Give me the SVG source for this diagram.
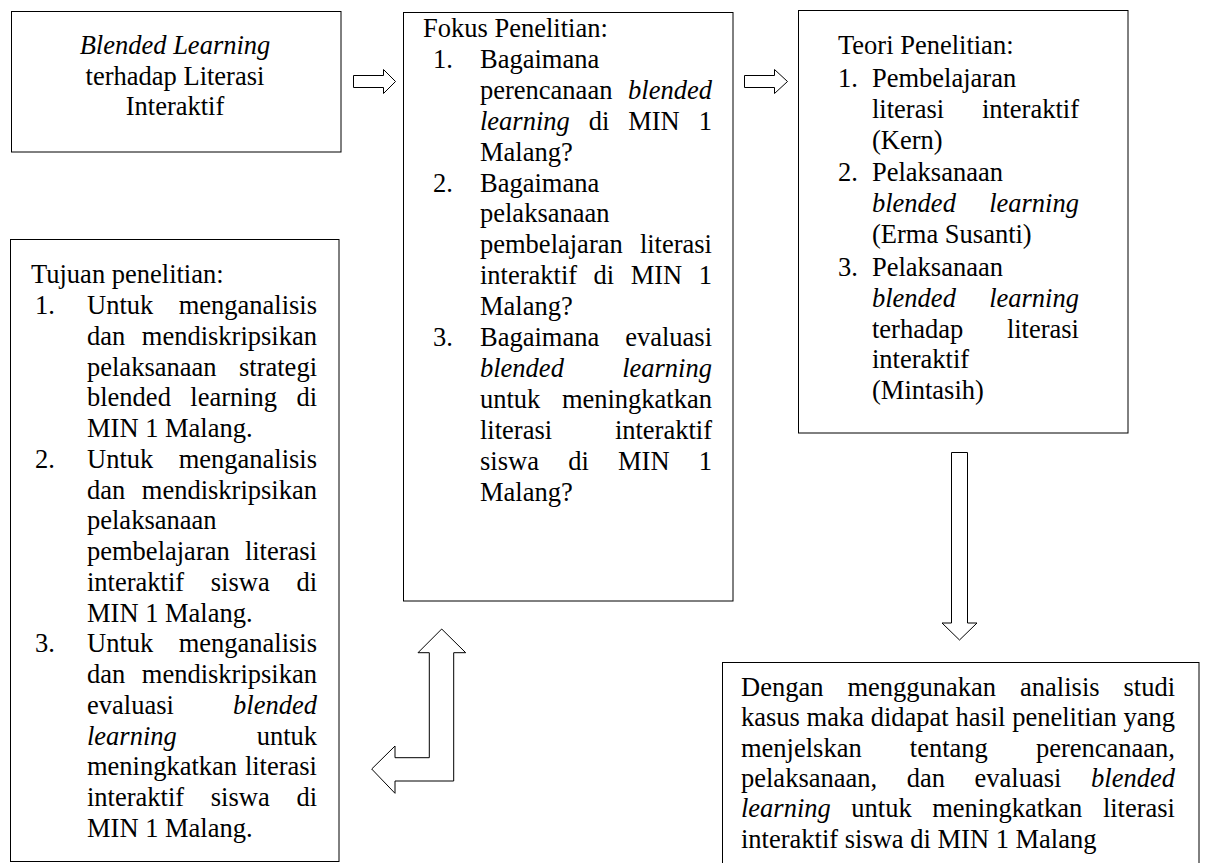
<svg xmlns="http://www.w3.org/2000/svg" width="1205" height="863" viewBox="0 0 1205 863" font-family="'Liberation Serif', Tinos, 'Times New Roman', Times, 'DejaVu Serif', serif">
<style>
.box{fill:#fff;stroke:#000;stroke-width:1}
.arr{fill:#fff;stroke:#000;stroke-width:1;stroke-linejoin:miter}
text{font-family:'Liberation Serif', Tinos, 'Times New Roman', Times, 'DejaVu Serif', serif;font-size:26.5px;fill:#000}
.i{font-style:italic}
.e{text-anchor:end}
.c{text-anchor:middle}
</style>
<rect width="1205" height="863" fill="#fff"/>
<g id="connectors">
<polygon class="arr" points="353.5,75.5 383.5,75.5 383.5,69.5 395.5,81.5 383.5,93.5 383.5,87.5 353.5,87.5"/>
<polygon class="arr" points="744.5,75.5 774.5,75.5 774.5,69.5 787.5,81.5 774.5,93.5 774.5,87.5 744.5,87.5"/>
<polygon class="arr" points="951.5,452.5 967.5,452.5 967.5,623 977,623 959.5,640 942,623 951.5,623"/>
<polygon class="arr" points="441.7,629 465.7,652.7 453.7,652.7 453.7,781 395,781 395,793.3 371.7,769 395,746 395,757.7 429.3,757.7 429.3,652.7 418,652.7"/>
</g>
<g id="judul">
<rect class="box" x="11.5" y="11.5" width="329.5" height="140.5"/>
<text class="c" x="175" y="54"><tspan class="i">Blended Learning</tspan></text>
<text class="c" x="175" y="85">terhadap Literasi</text>
<text class="c" x="175" y="115">Interaktif</text>
</g>
<g id="fokus">
<rect class="box" x="403.5" y="12.5" width="329.5" height="588.5"/>
<text x="423" y="37">Fokus Penelitian:</text>
<text x="433" y="67.9">1.</text><text x="480" y="67.9">Bagaimana</text>
<text y="98.8"><tspan x="480">perencanaan</tspan><tspan class="i e" x="712">blended</tspan></text>
<text y="129.7"><tspan class="i" x="480">learning</tspan><tspan x="588.7">di</tspan><tspan x="628.2">MIN</tspan><tspan class="e" x="712">1</tspan></text>
<text x="480" y="160.6">Malang?</text>
<text x="433" y="191.5">2.</text><text x="480" y="191.5">Bagaimana</text>
<text x="480" y="222.4">pelaksanaan</text>
<text y="253.3"><tspan x="480">pembelajaran</tspan><tspan class="e" x="712">literasi</tspan></text>
<text y="284.2"><tspan x="480">interaktif</tspan><tspan x="593.6">di</tspan><tspan x="630.7">MIN</tspan><tspan class="e" x="712">1</tspan></text>
<text x="480" y="315.1">Malang?</text>
<text x="433" y="346">3.</text><text y="346"><tspan x="480">Bagaimana</tspan><tspan class="e" x="712">evaluasi</tspan></text>
<text y="376.9" class="i"><tspan x="480">blended</tspan><tspan class="e" x="712">learning</tspan></text>
<text y="407.8"><tspan x="480">untuk</tspan><tspan class="e" x="712">meningkatkan</tspan></text>
<text y="438.7"><tspan x="480">literasi</tspan><tspan class="e" x="712">interaktif</tspan></text>
<text y="469.6"><tspan x="480">siswa</tspan><tspan x="568.2">di</tspan><tspan x="618">MIN</tspan><tspan class="e" x="712">1</tspan></text>
<text x="480" y="500.5">Malang?</text>
</g>
<g id="teori">
<rect class="box" x="798.5" y="10.5" width="329.5" height="422.5"/>
<text x="838" y="54">Teori Penelitian:</text>
<text x="838" y="87">1.</text><text x="872" y="87">Pembelajaran</text>
<text y="118"><tspan x="872">literasi</tspan><tspan class="e" x="1079">interaktif</tspan></text>
<text x="872" y="149">(Kern)</text>
<text x="838" y="181">2.</text><text x="872" y="181">Pelaksanaan</text>
<text y="212" class="i"><tspan x="872">blended</tspan><tspan class="e" x="1079">learning</tspan></text>
<text x="872" y="243">(Erma Susanti)</text>
<text x="838" y="276">3.</text><text x="872" y="276">Pelaksanaan</text>
<text y="307" class="i"><tspan x="872">blended</tspan><tspan class="e" x="1079">learning</tspan></text>
<text y="338"><tspan x="872">terhadap</tspan><tspan class="e" x="1079">literasi</tspan></text>
<text x="872" y="368">interaktif</text>
<text x="872" y="399">(Mintasih)</text>
</g>
<g id="tujuan">
<rect class="box" x="10.5" y="239.5" width="328.5" height="622"/>
<text x="31" y="283">Tujuan penelitian:</text>
<text x="35" y="314">1.</text><text y="314"><tspan x="87">Untuk</tspan><tspan class="e" x="317">menganalisis</tspan></text>
<text y="345"><tspan x="87">dan</tspan><tspan class="e" x="317">mendiskripsikan</tspan></text>
<text y="376"><tspan x="87">pelaksanaan</tspan><tspan class="e" x="317">strategi</tspan></text>
<text y="406"><tspan x="87">blended</tspan><tspan x="190.3">learning</tspan><tspan class="e" x="317">di</tspan></text>
<text x="87" y="437">MIN 1 Malang.</text>
<text x="35" y="468">2.</text><text y="468"><tspan x="87">Untuk</tspan><tspan class="e" x="317">menganalisis</tspan></text>
<text y="499"><tspan x="87">dan</tspan><tspan class="e" x="317">mendiskripsikan</tspan></text>
<text x="87" y="529">pelaksanaan</text>
<text y="560"><tspan x="87">pembelajaran</tspan><tspan class="e" x="317">literasi</tspan></text>
<text y="591"><tspan x="87">interaktif</tspan><tspan x="210.8">siswa</tspan><tspan class="e" x="317">di</tspan></text>
<text x="87" y="622">MIN 1 Malang.</text>
<text x="35" y="652">3.</text><text y="652"><tspan x="87">Untuk</tspan><tspan class="e" x="317">menganalisis</tspan></text>
<text y="683"><tspan x="87">dan</tspan><tspan class="e" x="317">mendiskripsikan</tspan></text>
<text y="714"><tspan x="87">evaluasi</tspan><tspan class="i e" x="317">blended</tspan></text>
<text y="745"><tspan class="i" x="87">learning</tspan><tspan class="e" x="317">untuk</tspan></text>
<text y="775"><tspan x="87">meningkatkan</tspan><tspan class="e" x="317">literasi</tspan></text>
<text y="806"><tspan x="87">interaktif</tspan><tspan x="210.8">siswa</tspan><tspan class="e" x="317">di</tspan></text>
<text x="87" y="837">MIN 1 Malang.</text>
</g>
<g id="hasil">
<rect class="box" x="722.5" y="662.5" width="476.5" height="215"/>
<text y="696"><tspan x="741">Dengan</tspan><tspan x="847.4">menggunakan</tspan><tspan x="1020.1">analisis</tspan><tspan class="e" x="1175">studi</tspan></text>
<text y="726.3"><tspan x="741">kasus</tspan><tspan x="806.6">maka</tspan><tspan x="870.7">didapat</tspan><tspan x="955.4">hasil</tspan><tspan x="1012.2">penelitian</tspan><tspan class="e" x="1175">yang</tspan></text>
<text y="756.6"><tspan x="741">menjelskan</tspan><tspan x="909.8">tentang</tspan><tspan class="e" x="1175">perencanaan,</tspan></text>
<text y="786.9"><tspan x="741">pelaksanaan,</tspan><tspan x="906.7">dan</tspan><tspan x="974.6">evaluasi</tspan><tspan class="i e" x="1175">blended</tspan></text>
<text y="817.2"><tspan class="i" x="741">learning</tspan><tspan x="851.3">untuk</tspan><tspan x="932.2">meningkatkan</tspan><tspan class="e" x="1175">literasi</tspan></text>
<text x="741" y="847.5">interaktif siswa di MIN 1 Malang</text>
</g>
</svg>
